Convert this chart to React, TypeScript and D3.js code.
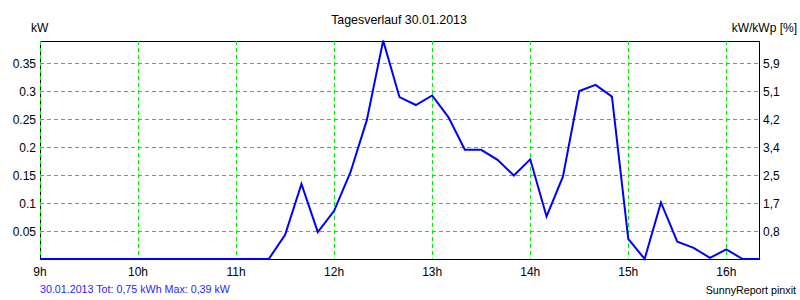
import React from "react";
import * as d3 from "d3";

const times: string[] = [
  "9:00","9:10","9:20","9:30","9:40","9:50",
  "10:00","10:10","10:20","10:30","10:40","10:50",
  "11:00","11:10","11:20","11:30","11:40","11:50",
  "12:00","12:10","12:20","12:30","12:40","12:50",
  "13:00","13:10","13:20","13:30","13:40","13:50",
  "14:00","14:10","14:20","14:30","14:40","14:50",
  "15:00","15:10","15:20","15:30","15:40","15:50",
  "16:00","16:10","16:20",
];

const powerKW: number[] = [
  0,0,0,0,0,0,
  0,0,0,0,0,0,
  0,0,0,0.043,0.134,0.048,
  0.086,0.155,0.248,0.39,0.289,0.275,
  0.292,0.253,0.195,0.195,0.177,0.149,
  0.178,0.076,0.147,0.300,0.311,0.290,
  0.036,0.000,0.101,0.031,0.020,0.002,
  0.017,0.000,0.000,
];

const hourTicks: number[] = [9, 10, 11, 12, 13, 14, 15, 16];
const hourLabels: string[] = ["9h", "10h", "11h", "12h", "13h", "14h", "15h", "16h"];
const leftTicks: number[] = [0.05, 0.1, 0.15, 0.2, 0.25, 0.3, 0.35];
const leftTickLabels: string[] = ["0.05", "0.1", "0.15", "0.2", "0.25", "0.3", "0.35"];
const rightTickLabels: string[] = ["0,8", "1,7", "2,5", "3,4", "4,2", "5,1", "5,9"];

const title = "Tagesverlauf 30.01.2013";
const footerLeft = "30.01.2013 Tot: 0,75 kWh Max: 0,39 kW";
const footerRight = "SunnyReport pinxit";

const toHours = (t: string) => {
  const [h, m] = t.split(":").map(Number);
  return h + m / 60;
};

export default function App() {
  const W = 800, H = 300;
  const left = 40, right = 759, top = 41, bottom = 259;
  const x = d3.scaleLinear().domain([9, 16 + 20 / 60]).range([left, right]);
  const y = d3.scaleLinear().domain([0, 0.3893]).range([bottom, top]);
  const data = times.map((t, i) => ({ h: toHours(t), v: powerKW[i] }));
  const line = d3.line<{ h: number; v: number }>().x(d => x(d.h)).y(d => y(d.v));
  const font = "Arial, 'Liberation Sans', sans-serif";

  return (
    <svg width={W} height={H} style={{ position: "absolute", left: 0, top: 0, background: "#fff" }} fontFamily={font}>
      <rect x={0} y={0} width={W} height={H} fill="#fff" />
      {/* frame */}
      <line x1={left + 0.5} x2={left + 0.5} y1={top} y2={bottom} stroke="#000" strokeWidth={1} shapeRendering="crispEdges" />
      <line x1={left} x2={right + 1} y1={top + 0.5} y2={top + 0.5} stroke="#000" strokeWidth={1} shapeRendering="crispEdges" />
      <line x1={right + 0.5} x2={right + 0.5} y1={top} y2={bottom + 1} stroke="#000" strokeWidth={1} shapeRendering="crispEdges" />
      <line x1={left} x2={right + 1} y1={bottom + 0.5} y2={bottom + 0.5} stroke="#000" strokeWidth={1} shapeRendering="crispEdges" />
      {/* grid */}
      {hourTicks.map(h => (
        <line key={"vx" + h} x1={Math.round(x(h)) + 0.5} x2={Math.round(x(h)) + 0.5} y1={top} y2={bottom}
          stroke="#00ee00" strokeWidth={1} strokeDasharray="4,3" shapeRendering="crispEdges" />
      ))}
      {leftTicks.map(v => (
        <line key={"hy" + v} x1={left} x2={right} y1={Math.round(y(v)) + 0.5} y2={Math.round(y(v)) + 0.5}
          stroke="#00ee00" strokeWidth={1} strokeDasharray="4,3" shapeRendering="crispEdges" />
      ))}
      {/* data line */}
      <path d={line(data) || ""} fill="none" stroke="#0000ff" strokeWidth={2} strokeLinejoin="miter" />
      {/* left tick labels */}
      {leftTicks.map((v, i) => (
        <text key={"lt" + v} x={36} y={y(v) + 4.5} textAnchor="end" fontSize={12} fill="#000">{leftTickLabels[i]}</text>
      ))}
      {/* right tick labels */}
      {leftTicks.map((v, i) => (
        <text key={"rt" + v} x={763} y={y(v) + 4.5} textAnchor="start" fontSize={12} fill="#000">{rightTickLabels[i]}</text>
      ))}
      {/* x tick labels */}
      {hourTicks.map((h, i) => (
        <text key={"xt" + h} x={x(h)} y={276} textAnchor="middle" fontSize={12} fill="#000">{hourLabels[i]}</text>
      ))}
      <text x={31} y={32} fontSize={12} fill="#000">kW</text>
      <text x={797} y={32} textAnchor="end" fontSize={12} fill="#000">kW/kWp [%]</text>
      <text x={399} y={24} textAnchor="middle" fontSize={12.4} fill="#000">{title}</text>
      <text x={40} y={293} fontSize={10.7} fill="#2626ff">{footerLeft}</text>
      <text x={796} y={294} textAnchor="end" fontSize={10.7} fill="#000">{footerRight}</text>
    </svg>
  );
}
